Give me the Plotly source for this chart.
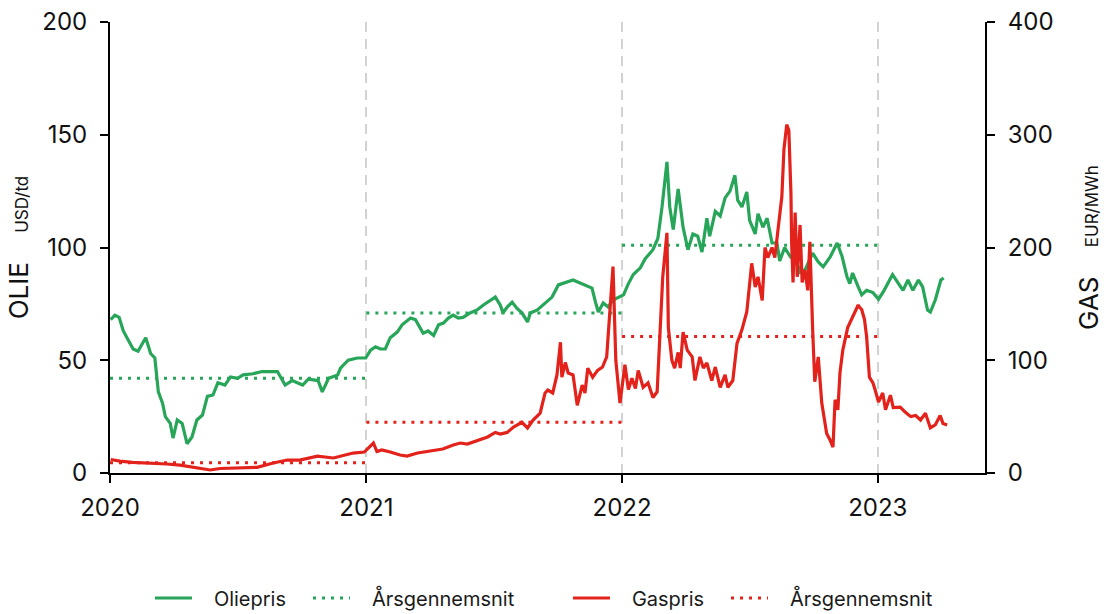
import plotly.graph_objects as go

# ---------------- data ----------------
oil_dates = [
    "2020-01-02", "2020-01-08", "2020-01-14", "2020-01-20", "2020-01-27", "2020-02-03", "2020-02-10",
    "2020-02-18", "2020-02-21", "2020-02-28", "2020-03-05", "2020-03-10", "2020-03-16", "2020-03-20",
    "2020-03-27", "2020-03-31", "2020-04-06", "2020-04-13", "2020-04-20", "2020-04-27", "2020-05-04",
    "2020-05-12", "2020-05-19", "2020-05-27", "2020-06-03", "2020-06-13", "2020-06-21", "2020-07-01",
    "2020-07-09", "2020-07-23", "2020-08-05", "2020-08-17", "2020-08-27", "2020-09-07", "2020-09-17",
    "2020-10-02", "2020-10-10", "2020-10-24", "2020-10-30", "2020-11-08", "2020-11-21", "2020-11-25",
    "2020-12-06", "2020-12-19", "2020-12-31",
    "2021-01-07", "2021-01-14", "2021-01-21", "2021-01-28", "2021-02-04", "2021-02-14", "2021-02-21",
    "2021-03-05", "2021-03-12", "2021-03-16", "2021-03-23", "2021-03-30", "2021-04-07", "2021-04-14",
    "2021-04-21", "2021-04-28", "2021-05-05", "2021-05-12", "2021-05-19", "2021-05-29", "2021-06-08",
    "2021-06-17", "2021-06-24", "2021-07-04", "2021-07-11", "2021-07-15", "2021-07-21", "2021-07-28",
    "2021-08-04", "2021-08-11", "2021-08-19", "2021-08-23", "2021-09-02", "2021-09-13", "2021-09-23",
    "2021-10-02", "2021-10-12", "2021-10-23", "2021-11-02", "2021-11-12", "2021-11-19", "2021-11-24",
    "2021-11-28", "2021-12-05", "2021-12-12", "2021-12-19", "2021-12-29",
    "2022-01-03", "2022-01-10", "2022-01-17", "2022-01-27", "2022-02-03", "2022-02-14", "2022-02-21",
    "2022-02-27", "2022-03-06", "2022-03-10", "2022-03-15", "2022-03-22", "2022-03-29", "2022-04-05",
    "2022-04-12", "2022-04-19", "2022-04-25", "2022-05-02", "2022-05-06", "2022-05-14", "2022-05-21",
    "2022-05-28", "2022-06-04", "2022-06-11", "2022-06-15", "2022-06-21", "2022-06-28", "2022-07-02",
    "2022-07-10", "2022-07-14", "2022-07-21", "2022-07-27", "2022-08-03", "2022-08-10", "2022-08-14",
    "2022-08-21", "2022-08-29", "2022-09-08", "2022-09-12", "2022-09-19", "2022-09-30", "2022-10-08",
    "2022-10-15", "2022-10-25", "2022-11-04", "2022-11-11", "2022-11-18", "2022-11-22", "2022-11-26",
    "2022-12-04", "2022-12-09", "2022-12-16", "2022-12-25",
    "2023-01-02", "2023-01-10", "2023-01-22", "2023-01-30", "2023-02-06", "2023-02-13", "2023-02-20",
    "2023-02-28", "2023-03-06", "2023-03-13", "2023-03-17", "2023-03-24", "2023-04-01", "2023-04-05",
]
oil_values = [
    68, 70, 69, 63, 59, 55, 54,
    58, 60, 53, 51, 36, 31, 25,
    22, 15.5, 23.5, 22, 13, 16, 23.5,
    25.7, 34, 34.6, 40, 39, 42.6, 42,
    43.5, 44, 45, 45, 45, 39, 41,
    39, 41.6, 41, 36, 42, 43.5, 46.5,
    50, 51, 51,
    54.5, 56, 55, 55, 60, 62.5, 65.7,
    68.7, 68, 65.7, 62, 63, 61, 65.7,
    66.5, 68.7, 70, 68.7, 69, 71, 72.3,
    74.5, 75.8, 78, 74.5, 71, 73.6, 75.8,
    73, 71, 67, 71, 72.3, 75.4, 78,
    83.4, 84.3, 85.6, 84.3, 83, 82, 75.8,
    71.4, 75.4, 73.6, 76.7, 78,
    79, 84, 88, 91, 95, 99, 104,
    118, 138, 118, 108, 126, 109, 99,
    106, 105, 98, 113, 105, 116, 114,
    122, 125, 132, 121, 118, 124.6, 112,
    106, 115, 109, 113, 102, 102, 94,
    100, 96, 93, 89, 90, 97.5, 93.6,
    91.4, 95.8, 102, 96, 87, 84, 88.7,
    82.5, 79, 81, 80,
    77, 81, 88, 84, 81, 85.6, 81,
    85.6, 82.5, 72.3, 71.4, 76.7, 85.6, 86.5,
]

gas_dates = [
    "2020-01-02", "2020-01-15", "2020-02-02", "2020-02-27", "2020-03-22", "2020-04-10", "2020-04-24",
    "2020-05-08", "2020-05-23", "2020-06-06", "2020-06-25", "2020-07-12", "2020-07-29", "2020-08-21",
    "2020-09-10", "2020-09-28", "2020-10-23", "2020-11-15", "2020-12-13", "2020-12-29",
    "2021-01-11", "2021-01-16", "2021-01-23", "2021-02-04", "2021-02-18", "2021-02-28", "2021-03-15",
    "2021-04-02", "2021-04-20", "2021-05-05", "2021-05-15", "2021-05-25", "2021-06-08", "2021-06-23",
    "2021-07-04", "2021-07-11", "2021-07-21", "2021-07-30", "2021-08-11", "2021-08-19", "2021-08-27",
    "2021-09-06", "2021-09-13", "2021-09-17", "2021-09-24", "2021-09-30", "2021-10-05", "2021-10-07",
    "2021-10-12", "2021-10-16", "2021-10-23", "2021-10-29", "2021-11-05", "2021-11-09", "2021-11-13",
    "2021-11-20", "2021-11-27", "2021-12-04", "2021-12-10", "2021-12-14", "2021-12-19", "2021-12-23",
    "2021-12-29",
    "2022-01-05", "2022-01-10", "2022-01-15", "2022-01-20", "2022-01-24", "2022-01-31", "2022-02-07",
    "2022-02-14", "2022-02-20", "2022-02-23", "2022-02-28", "2022-03-06", "2022-03-08", "2022-03-13",
    "2022-03-17", "2022-03-22", "2022-03-25", "2022-03-29", "2022-04-04", "2022-04-11", "2022-04-15",
    "2022-04-22", "2022-04-27", "2022-05-02", "2022-05-09", "2022-05-14", "2022-05-21", "2022-05-28",
    "2022-06-01", "2022-06-08", "2022-06-14", "2022-06-21", "2022-06-28", "2022-07-05", "2022-07-10",
    "2022-07-14", "2022-07-20", "2022-07-24", "2022-07-28", "2022-08-03", "2022-08-07", "2022-08-11",
    "2022-08-17", "2022-08-20", "2022-08-24", "2022-08-27", "2022-08-30", "2022-08-31", "2022-09-02",
    "2022-09-05", "2022-09-08", "2022-09-12", "2022-09-15", "2022-09-19", "2022-09-23", "2022-09-26",
    "2022-09-28", "2022-09-30", "2022-10-03", "2022-10-08", "2022-10-13", "2022-10-20", "2022-10-25",
    "2022-10-29", "2022-11-01", "2022-11-05", "2022-11-08", "2022-11-12", "2022-11-19", "2022-11-26",
    "2022-12-04", "2022-12-06", "2022-12-09", "2022-12-13", "2022-12-16", "2022-12-20", "2022-12-25",
    "2022-12-28",
    "2023-01-02", "2023-01-08", "2023-01-12", "2023-01-19", "2023-01-23", "2023-02-02", "2023-02-09",
    "2023-02-17", "2023-02-24", "2023-03-03", "2023-03-10", "2023-03-17", "2023-03-24", "2023-03-31",
    "2023-04-04", "2023-04-10",
]
gas_values = [
    12, 10.5, 9.5, 9, 8, 7, 5.6,
    4, 2.7, 4, 4.4, 4.5, 5, 8.9,
    11.5, 11.5, 15, 13.3, 17.7, 18.6,
    26.6, 19, 20.4, 18.6, 16, 15, 17.7,
    19.5, 21.3, 24.8, 26.6, 25.7, 29, 32,
    36, 34.6, 36, 40.8, 45, 40, 47,
    53, 71, 73.6, 71, 87, 116, 85,
    98, 88.7, 87, 60, 78, 71, 93,
    85, 91, 94, 103, 136, 183, 100,
    62,
    96, 74, 84, 75, 91, 76, 80,
    67, 72, 115, 174, 213, 129, 100,
    93, 107, 93, 125, 109, 103, 82,
    103, 93, 97.6, 82, 94, 76, 87,
    76, 82, 115, 127, 143, 186, 165,
    174, 153, 200, 191, 200, 191, 213,
    245, 287, 309, 304, 248, 204, 169,
    231, 174, 220, 169, 180, 162, 205,
    160, 127, 81, 103, 62, 35, 29,
    23, 65, 56, 89, 109, 129, 138,
    149, 147, 145, 136, 121, 85, 80,
    74,
    63, 71, 56, 69, 58, 58.5, 54,
    50, 51, 47, 53, 40, 42.6, 51,
    44, 42.6,
]

avg_years = [2020, 2021, 2022]
oil_avg = [42, 71, 101]
gas_avg = [9, 45, 121]

# ---------------- styling ----------------
GREEN = "#27a558"
RED = "#e3221c"
FONT = "Inter"
NB = "\u00a0"


def avg_segments(years, vals):
    xs, ys = [], []
    for yr, v in zip(years, vals):
        xs += [f"{yr}-01-01", f"{yr}-12-31", None]
        ys += [v, v, None]
    return xs, ys


oil_ax, oil_ay = avg_segments(avg_years, oil_avg)
gas_ax, gas_ay = avg_segments(avg_years, gas_avg)

fig = go.Figure()
fig.add_trace(go.Scatter(x=oil_dates, y=oil_values, mode="lines", name=NB * 3 + "Oliepris",
                         line=dict(color=GREEN, width=3.2), legend="legend"))
fig.add_trace(go.Scatter(x=oil_ax, y=oil_ay, mode="lines", name=NB * 3 + "Årsgennemsnit",
                         line=dict(color=GREEN, width=3, dash="3px,6px"), legend="legend2"))
fig.add_trace(go.Scatter(x=gas_dates, y=gas_values, mode="lines", name=NB * 3 + "Gaspris", yaxis="y2",
                         line=dict(color=RED, width=3.2), legend="legend3"))
fig.add_trace(go.Scatter(x=gas_ax, y=gas_ay, mode="lines", name=NB * 3 + "Årsgennemsnit", yaxis="y2",
                         line=dict(color=RED, width=3, dash="3px,6px"), legend="legend4"))

legend_common = dict(orientation="h", xref="container", yref="container", yanchor="middle",
                     xanchor="left", y=1 - 598 / 614, itemwidth=37, bgcolor="rgba(0,0,0,0)",
                     font=dict(family=FONT, size=20, color="#1a1a1a"))
axis_line = dict(showline=True, linecolor="black", linewidth=2,
                 ticks="outside", ticklen=8, tickwidth=2, tickcolor="black",
                 zeroline=False, tickfont=dict(family=FONT, size=24, color="#111"))
fig.update_layout(
    width=1104, height=614,
    margin=dict(l=110, r=119, t=22, b=141, autoexpand=False),
    paper_bgcolor="white", plot_bgcolor="white",
    font=dict(family=FONT, size=21, color="#111"),
    xaxis=dict(
        axis_line,
        type="date", range=["2020-01-01", "2023-06-03"],
        dtick="M12", tick0="2020-01-01", tickformat="%Y",
        showgrid=True, gridcolor="#d2d2d2", gridwidth=2, griddash="10px,7px",
        ticklabelstandoff=4,
    ),
    yaxis=dict(
        axis_line,
        range=[0, 200], dtick=50, showgrid=False, ticklabelstandoff=8,
        title=dict(text="OLIE" + " " * 4 + "<span style='font-size:17px'>USD/td</span>",
                   font=dict(family=FONT, size=26, color="#111"), standoff=6),
    ),
    yaxis2=dict(
        axis_line,
        range=[0, 400], dtick=100, overlaying="y", side="right",
        showgrid=False, ticklabelstandoff=8,
        title=dict(text="GAS" + " " * 4 + "<span style='font-size:17px'>EUR/MWh</span>",
                   font=dict(family=FONT, size=26, color="#111"), standoff=27),
    ),
    legend=dict(legend_common, x=150 / 1104),
    legend2=dict(legend_common, x=308 / 1104),
    legend3=dict(legend_common, x=568 / 1104),
    legend4=dict(legend_common, x=726 / 1104),
    showlegend=True,
)

fig.write_html("out.html", config={"displayModeBar": False},
               post_script="document.body.style.margin='0px';")
